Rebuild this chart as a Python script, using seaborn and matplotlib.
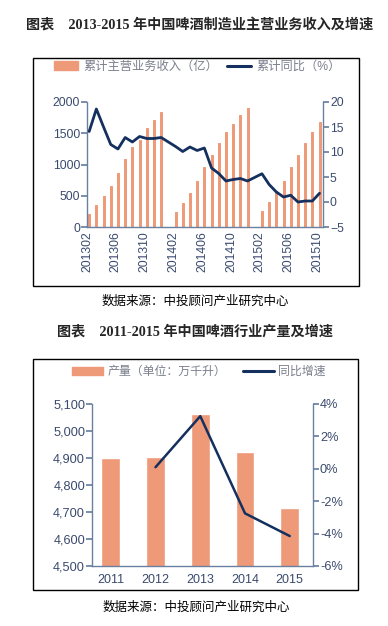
import matplotlib
matplotlib.use("Agg")
import matplotlib.pyplot as plt
import matplotlib.patches as mpatches
from matplotlib.lines import Line2D
from matplotlib.ticker import FuncFormatter, MultipleLocator
import numpy as np
import pandas as pd
import seaborn as sns

# ---- chart 1 : 2013-2015 revenue (亿) and cumulative yoy (%)
months = ["201302", "201303", "201304", "201305", "201306", "201307", "201308",
          "201309", "201310", "201311", "201312",
          "201402", "201403", "201404", "201405", "201406", "201407", "201408",
          "201409", "201410", "201411", "201412",
          "201502", "201503", "201504", "201505", "201506", "201507", "201508",
          "201509", "201510"]
revenue = [214, 354, 499, 660, 858, 1090, 1277, 1385, 1583, 1707, 1840,
           235, 391, 552, 730, 955, 1159, 1348, 1518, 1653, 1787, 1911,
           250, 403, 580, 741, 966, 1159, 1348, 1518, 1680]
growth = [14.1, 18.6, 15.0, 11.5, 10.6, 12.9, 12.0, 13.1, 12.7, 12.7, 12.9,
          11.1, 10.1, 11.0, 10.3, 10.8, 6.8, 5.7, 4.2, 4.5, 4.7, 4.2,
          5.65, 3.5, 2.0, 1.0, 1.35, 0.0, 0.2, 0.2, 1.75]
tick_months = ["201302", "201306", "201310", "201402", "201406", "201410",
               "201502", "201506", "201510"]

# ---- chart 2 : 2011-2015 output (万千升) and yoy
years = ["2011", "2012", "2013", "2014", "2015"]
output = [4899, 4902, 5062, 4922, 4716]
yoy_years = ["2012", "2013", "2014", "2015"]
yoy = [0.10, 3.25, -2.75, -4.15]

BAR = "#EE9A78"
NAVY = "#14305E"
TICK = "#3A4A6E"
SPINE = "#6A80A0"
LEG = "#7A7F8C"

sns.set_theme(style="white")
plt.rcParams["font.family"] = ["Liberation Sans", "Noto Sans CJK SC", "DejaVu Sans"]
CJK = ["Liberation Sans", "Noto Sans CJK SC"]
SERIF = ["Liberation Serif", "Noto Sans CJK SC"]

W, H = 388, 626
fig = plt.figure(figsize=(W / 100, H / 100), dpi=100)


def fx(px):
    return px / W


def fy(py):
    return 1 - py / H


def box(x0, y0, x1, y1):
    fig.patches.append(mpatches.Rectangle((fx(x0), fy(y1)), fx(x1) - fx(x0),
                                          fy(y0) - fy(y1), transform=fig.transFigure,
                                          fill=False, ec="black", lw=1.0))


def style_axes(ax, sides):
    for s in ["top", "left", "right", "bottom"]:
        ax.spines[s].set_visible(s in sides)
        ax.spines[s].set_color(SPINE)
        ax.spines[s].set_linewidth(1.0)
    ax.tick_params(colors=SPINE, labelcolor=TICK)


# ================= chart 1 =================
fig.text(fx(200), fy(25), "图表　2013-2015 年中国啤酒制造业主营业务收入及增速",
         family=SERIF, weight="bold", fontsize=10.2, ha="center", va="center")
box(33, 58, 359, 286)

pos = [(int(m[:4]) - 2013) * 12 + int(m[4:]) - 2 for m in months]
df1 = pd.DataFrame({"pos": pos, "revenue": revenue, "growth": growth})

ax1 = fig.add_axes([fx(87), fy(227), fx(323) - fx(87), fy(102) - fy(227)])
sns.barplot(data=df1, x="pos", y="revenue", native_scale=True, color=BAR,
            width=0.28, saturation=1, edgecolor=BAR, linewidth=0.7, ax=ax1)
ax1.set_xlim(-0.3, 32.48)
ax1.set_ylim(0, 2000)
ax1.yaxis.set_major_locator(MultipleLocator(500))
tpos = [(int(m[:4]) - 2013) * 12 + int(m[4:]) - 2 - 0.3 for m in tick_months]
ax1.set_xticks(tpos)
ax1.set_xticklabels(tick_months, rotation=90, fontsize=8.8)
ax1.set_xlabel("")
ax1.set_ylabel("")
style_axes(ax1, ["left", "bottom"])
ax1.tick_params(axis="y", direction="out", length=4, labelsize=8.8, pad=1)
ax1.tick_params(axis="x", direction="in", length=4, pad=3)

ax1b = ax1.twinx()
sns.lineplot(data=df1, x="pos", y="growth", color=NAVY, lw=2.0, ax=ax1b)
ax1b.set_ylim(-5, 20)
ax1b.yaxis.set_major_locator(MultipleLocator(5))
ax1b.set_xlim(-0.3, 32.48)
ax1b.set_ylabel("")
style_axes(ax1b, ["right"])
ax1b.tick_params(axis="y", direction="out", length=4, labelsize=8.8, pad=1)

h1 = [mpatches.Patch(color=BAR), Line2D([], [], color=NAVY, lw=2.2)]
leg1 = ax1.legend(h1, ["累计主营业务收入（亿）", "累计同比（%）"], ncol=2,
                  loc="center", bbox_to_anchor=(fx(197), fy(67)),
                  bbox_transform=fig.transFigure, frameon=False,
                  prop={"family": CJK, "size": 8.8}, handlelength=2.0,
                  handletextpad=0.4, columnspacing=0.75, labelcolor=LEG)

fig.text(fx(195), fy(302), "数据来源：中投顾问产业研究中心", family=CJK,
         fontsize=9, ha="center", va="center", color="black")

# ================= chart 2 =================
fig.text(fx(195), fy(332), "图表　2011-2015 年中国啤酒行业产量及增速",
         family=SERIF, weight="bold", fontsize=10.2, ha="center", va="center")
box(33, 359, 358, 590)

df2 = pd.DataFrame({"year": years, "output": output})
df3 = pd.DataFrame({"year": yoy_years, "yoy": yoy})
df3["x"] = [years.index(y) for y in yoy_years]

ax2 = fig.add_axes([fx(92), fy(566), fx(313) - fx(92), fy(404) - fy(566)])
sns.barplot(data=df2, x="year", y="output", color=BAR, width=0.42,
            saturation=1, ax=ax2)
ax2.set_xlim(-0.42, 4.52)
ax2.set_ylim(4500, 5100)
ax2.yaxis.set_major_locator(MultipleLocator(100))
ax2.yaxis.set_major_formatter(FuncFormatter(lambda v, p: f"{v:,.0f}"))
ax2.set_xticks([0.5, 1.5, 2.5, 3.5], minor=True)
ax2.set_xlabel("")
ax2.set_ylabel("")
style_axes(ax2, ["left", "bottom"])
ax2.tick_params(axis="x", which="major", length=0, labelsize=9, pad=6)
ax2.tick_params(axis="x", which="minor", direction="in", length=4, color=SPINE)
ax2.tick_params(axis="y", direction="out", length=4, labelsize=9.2, pad=1)

ax2b = ax2.twinx()
sns.lineplot(data=df3, x="x", y="yoy", color=NAVY, lw=1.8, ax=ax2b)
ax2b.set_ylim(-6, 4)
ax2b.set_xlim(-0.42, 4.52)
ax2b.yaxis.set_major_locator(MultipleLocator(2))
ax2b.yaxis.set_major_formatter(FuncFormatter(lambda v, p: f"{v:.0f}%"))
ax2b.set_ylabel("")
style_axes(ax2b, ["right"])
ax2b.tick_params(axis="y", direction="out", length=4, labelsize=9.2, pad=1)

h2 = [mpatches.Patch(color=BAR), Line2D([], [], color=NAVY, lw=2.2)]
ax2.legend(h2, ["产量（单位：万千升）", "同比增速"], ncol=2, loc="center",
           bbox_to_anchor=(fx(199), fy(372)), bbox_transform=fig.transFigure,
           frameon=False, prop={"family": CJK, "size": 8.6}, handlelength=2.6,
           handletextpad=0.35, columnspacing=1.4, labelcolor=LEG)

fig.text(fx(196), fy(608), "数据来源：中投顾问产业研究中心", family=CJK,
         fontsize=9, ha="center", va="center", color="black")

fig.savefig("out.png", dpi=100)
